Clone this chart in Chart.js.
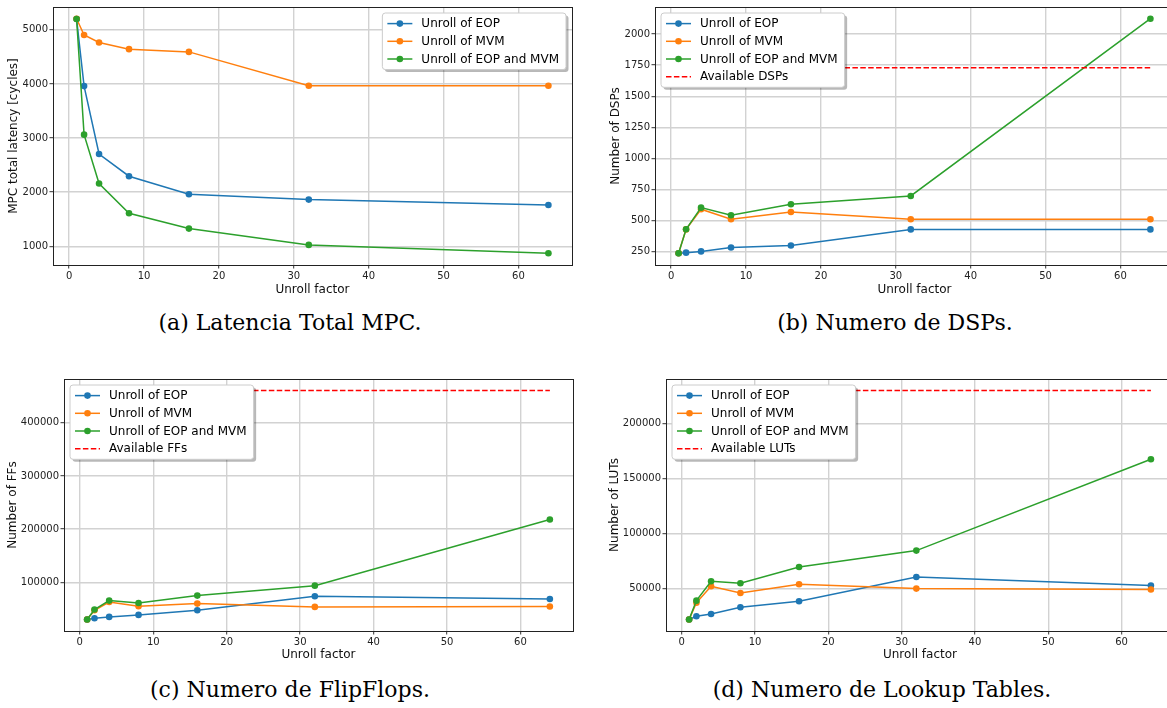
<!DOCTYPE html>
<html lang="es">
<head>
<meta charset="utf-8">
<title>Unroll factor</title>
<script src="https://cdn.jsdelivr.net/npm/chart.js@4.4.1/dist/chart.umd.min.js"></script>
<style>
  html, body { margin: 0; padding: 0; background: #fff; }
  body { position: relative; width: 1167px; height: 708px; overflow: hidden; }
  canvas { position: absolute; }
  .caption {
    position: absolute; width: 480px; margin-left: -240px;
    text-align: center; white-space: nowrap;
    font-family: "DejaVu Serif", serif; font-size: 22px; line-height: 22px; color: #000;
  }
</style>
</head>
<body>
<canvas id="chartLatency"></canvas>
<canvas id="chartDsp"></canvas>
<canvas id="chartFf"></canvas>
<canvas id="chartLut"></canvas>
<div class="caption" style="left:290px; top:312px">(a) Latencia Total MPC.</div>
<div class="caption" style="left:895px; top:312px">(b) Numero de DSPs.</div>
<div class="caption" style="left:290px; top:679px">(c) Numero de FlipFlops.</div>
<div class="caption" style="left:882px; top:679px">(d) Numero de Lookup Tables.</div>
<script>
// x values shared by every panel
const unrollFactor = [1, 2, 4, 8, 16, 32, 64];
const seriesLabels = ["Unroll of EOP", "Unroll of MVM", "Unroll of EOP and MVM"];
const seriesColors = ["#1f77b4", "#ff7f0e", "#2ca02c"];

// (a) latency [cycles]
const latencyEop = [5200, 3960, 2705, 2295, 1962, 1863, 1764];
const latencyMvm = [5205, 4905, 4765, 4643, 4592, 3966, 3966];
const latencyBoth = [5200, 3063, 2160, 1610, 1327, 1026, 871];

// (b) DSPs
const dspEop = [237, 242, 252, 284, 300, 429, 429];
const dspMvm = [237, 429, 591, 510, 569, 510, 510];
const dspBoth = [237, 430, 604, 543, 631, 698, 2123];
const availableDsp = 1728;

// (c) flip-flops
const ffEop = [30000, 32500, 35000, 38750, 47500, 73750, 68750];
const ffMvm = [30000, 47500, 63000, 55000, 60000, 53750, 54400];
const ffBoth = [30000, 48750, 65600, 61250, 75000, 93750, 218000];
const availableFf = 460800;

// (d) LUTs
const lutEop = [21800, 24800, 26900, 33000, 38500, 60600, 52700];
const lutMvm = [21800, 37200, 52100, 46000, 54000, 50000, 49100];
const lutBoth = [21800, 39000, 56700, 54900, 69700, 84600, 167800];
const availableLut = 230400;

Chart.defaults.font.family = "'DejaVu Sans', sans-serif";
Chart.defaults.color = "#222";

function points(values) {
    return unrollFactor.map((x, i) => ({ x: x, y: values[i] }));
}

// matplotlib style autoscale: 5% margin on both ends
function paddedRange(values) {
    const lo = Math.min(...values);
    const hi = Math.max(...values);
    const pad = (hi - lo) * 0.05;
    return [lo - pad, hi + pad];
}

// black frame round the plot area
const plotFrame = {
    id: "plotFrame",
    afterDatasetsDraw(chart) {
        const { ctx, chartArea: a } = chart;
        ctx.save();
        ctx.strokeStyle = "#222";
        ctx.lineWidth = 1;
        ctx.strokeRect(Math.round(a.left) + 0.5, Math.round(a.top) + 0.5,
            Math.round(a.right - a.left), Math.round(a.bottom - a.top));
        ctx.restore();
    },
};

// legend inside the axes, with a drop shadow
const insetLegend = {
    id: "insetLegend",
    afterDraw(chart, args, opts) {
        const { ctx, chartArea: area } = chart;
        const sets = chart.data.datasets;
        ctx.save();
        ctx.font = "12px 'DejaVu Sans'";
        const textW = Math.max(...sets.map(d => ctx.measureText(d.label).width));
        const w = 39 + textW + 7;
        const h = 21.2 + (sets.length - 1) * 17.7;
        const x = opts.corner === "right" ? area.right - 6 - w : area.left + 6;
        const y = area.top + 6;

        ctx.fillStyle = "rgba(0,0,0,0.28)";
        ctx.beginPath();
        ctx.roundRect(x + 2.5, y + 2.5, w, h, 3);
        ctx.fill();

        ctx.fillStyle = "#fff";
        ctx.strokeStyle = "#cccccc";
        ctx.lineWidth = 1;
        ctx.beginPath();
        ctx.roundRect(x, y, w, h, 3);
        ctx.fill();
        ctx.stroke();

        sets.forEach((d, i) => {
            const ry = y + 10.6 + i * 17.7;
            ctx.strokeStyle = d.borderColor;
            ctx.lineWidth = d.borderWidth;
            ctx.setLineDash(d.borderDash || []);
            ctx.beginPath();
            ctx.moveTo(x + 5, ry);
            ctx.lineTo(x + 30, ry);
            ctx.stroke();
            ctx.setLineDash([]);
            if (d.pointRadius > 0) {
                ctx.fillStyle = d.borderColor;
                ctx.beginPath();
                ctx.arc(x + 17.5, ry, d.pointRadius, 0, Math.PI * 2);
                ctx.fill();
            }
            ctx.fillStyle = "#000";
            ctx.textBaseline = "middle";
            ctx.fillText(d.label, x + 39, ry + 0.5);
        });
        ctx.restore();
    },
};

function axis(horizontal, min, max, step, title, size, titlePad) {
    return {
        type: "linear",
        position: horizontal ? "bottom" : "left",
        min: min,
        max: max,
        border: { display: false },
        grid: { color: "#d2d2d2", lineWidth: 1.4, tickColor: "#333", tickLength: 3.5, tickWidth: 1 },
        ticks: {
            padding: horizontal ? 2 : 1.5,
            maxRotation: 0,
            autoSkip: false,
            font: { size: 10 },
            color: "#222",
            callback: v => String(v),
        },
        title: {
            display: true,
            text: title,
            color: "#111",
            font: { size: 12 },
            padding: horizontal ? { top: 0, bottom: titlePad } : { top: titlePad, bottom: 0 },
        },
        // round ticks only (multiples of step), keep the padded limits
        afterBuildTicks(scale) {
            const ticks = [];
            for (let v = Math.ceil(min / step) * step; v <= max; v += step) {
                ticks.push({ value: v });
            }
            scale.ticks = ticks;
            scale.min = min;
            scale.max = max;
        },
        afterFit(scale) {
            if (horizontal) {
                scale.height = size;
                scale.paddingLeft = 0;
                scale.paddingRight = 0;
            } else {
                scale.width = size;
                scale.paddingTop = 0;
                scale.paddingBottom = 0;
            }
        },
    };
}

function makeChart(id, panel) {
    const canvas = document.getElementById(id);
    canvas.width = panel.width;
    canvas.height = panel.height;
    canvas.style.left = panel.left + "px";
    canvas.style.top = panel.top + "px";

    const datasets = panel.series.map((values, i) => ({
        label: seriesLabels[i],
        data: points(values),
        borderColor: seriesColors[i],
        backgroundColor: seriesColors[i],
        borderWidth: 1.5,
        pointRadius: 3.3,
        pointBorderWidth: 0,
        pointHoverRadius: 3.3,
        order: -i,
    }));
    let yValues = panel.series.flat();
    if (panel.available) {
        const last = unrollFactor.length - 1;
        datasets.push({
            label: panel.available.label,
            data: [
                { x: unrollFactor[0], y: panel.available.value },
                { x: unrollFactor[last], y: panel.available.value },
            ],
            borderColor: "#ff0000",
            borderDash: [5.5, 2.4],
            borderWidth: 1.5,
            pointRadius: 0,
            order: -3,
        });
        yValues = yValues.concat([panel.available.value]);
    }

    const [xMin, xMax] = paddedRange(unrollFactor);
    const [yMin, yMax] = paddedRange(yValues);

    return new Chart(canvas.getContext("2d"), {
        type: "line",
        data: { datasets: datasets },
        options: {
            responsive: false,
            animation: false,
            events: [],
            layout: { padding: panel.padding },
            plugins: {
                legend: { display: false },
                tooltip: { enabled: false },
                insetLegend: { corner: panel.legendCorner },
            },
            scales: {
                x: axis(true, xMin, xMax, 10, "Unroll factor", panel.xHeight, panel.xTitlePad),
                y: axis(false, yMin, yMax, panel.yStep, panel.yTitle, panel.yWidth, panel.yTitlePad),
            },
        },
        plugins: [plotFrame, insetLegend],
    });
}

makeChart("chartLatency", {
    left: 0, top: 0, width: 590, height: 300,
    padding: { top: 7, right: 18, bottom: 0, left: 0 },
    yWidth: 53, xHeight: 35, yTitlePad: 7, xTitlePad: 3,
    yTitle: "MPC total latency [cycles]", yStep: 1000,
    series: [latencyEop, latencyMvm, latencyBoth],
    legendCorner: "right",
});

makeChart("chartDsp", {
    left: 600, top: 0, width: 600, height: 300,
    padding: { top: 7, right: 26, bottom: 0, left: 0 },
    yWidth: 55, xHeight: 35, yTitlePad: 9, xTitlePad: 3,
    yTitle: "Number of DSPs", yStep: 250,
    series: [dspEop, dspMvm, dspBoth],
    available: { label: "Available DSPs", value: availableDsp },
    legendCorner: "left",
});

makeChart("chartFf", {
    left: 0, top: 340, width: 590, height: 322,
    padding: { top: 39, right: 17, bottom: 0, left: 0 },
    yWidth: 64, xHeight: 31, yTitlePad: 6, xTitlePad: 0,
    yTitle: "Number of FFs", yStep: 100000,
    series: [ffEop, ffMvm, ffBoth],
    available: { label: "Available FFs", value: availableFf },
    legendCorner: "left",
});

makeChart("chartLut", {
    left: 600, top: 340, width: 600, height: 322,
    padding: { top: 39, right: 26, bottom: 0, left: 0 },
    yWidth: 66, xHeight: 31, yTitlePad: 8, xTitlePad: 0,
    yTitle: "Number of LUTs", yStep: 50000,
    series: [lutEop, lutMvm, lutBoth],
    available: { label: "Available LUTs", value: availableLut },
    legendCorner: "left",
});
</script>
</body>
</html>
